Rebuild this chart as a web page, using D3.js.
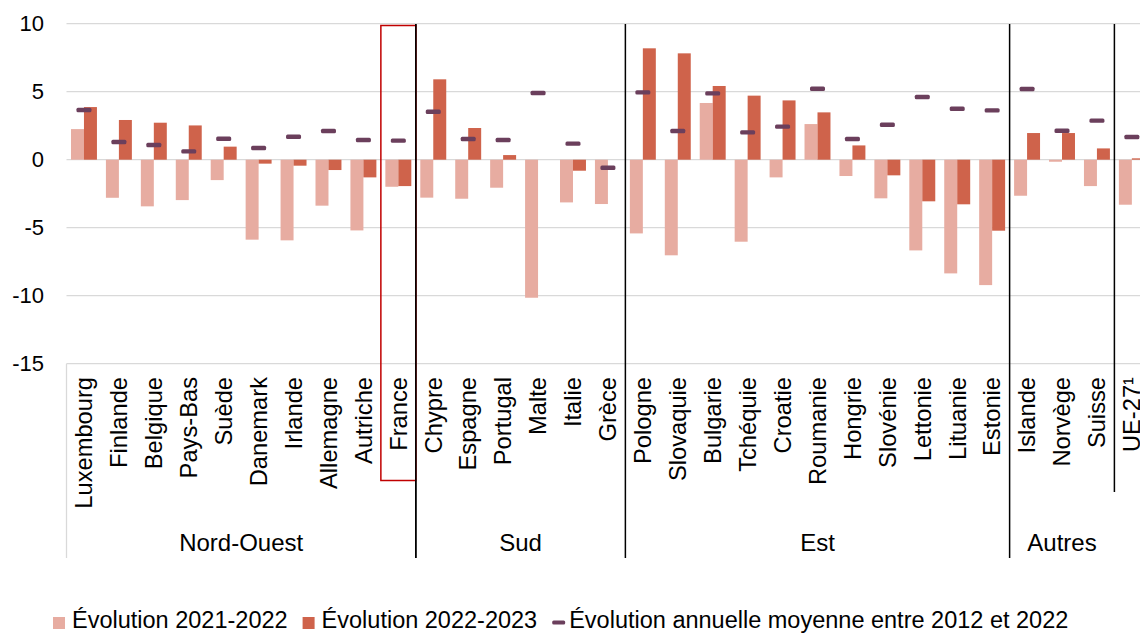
<!DOCTYPE html>
<html>
<head>
<meta charset="utf-8">
<script src="https://cdn.jsdelivr.net/npm/d3@7"></script>
<style>
	body { margin: 0; background: #fff; }
	svg { display: block; font-family: "Liberation Sans", Arial, sans-serif; }
</style>
</head>
<body>
<svg width="1140" height="633"></svg>
<script>
// data
const countries = ["Luxembourg", "Finlande", "Belgique", "Pays-Bas", "Suède", "Danemark", "Irlande", "Allemagne", "Autriche", "France",
	"Chypre", "Espagne", "Portugal", "Malte", "Italie", "Grèce",
	"Pologne", "Slovaquie", "Bulgarie", "Tchéquie", "Croatie", "Roumanie", "Hongrie", "Slovénie", "Lettonie", "Lituanie", "Estonie",
	"Islande", "Norvège", "Suisse", "UE-27¹"];

const evol2122 = [2.25, -2.8, -3.43, -2.97, -1.5, -5.88, -5.93, -3.38, -5.2, -1.99,
	-2.79, -2.87, -2.06, -10.15, -3.14, -3.26,
	-5.42, -7.03, 4.17, -6.03, -1.3, 2.62, -1.2, -2.84, -6.67, -8.36, -9.22,
	-2.65, -0.15, -1.94, -3.31];

const evol2223 = [3.87, 2.92, 2.72, 2.52, 0.96, -0.29, -0.44, -0.76, -1.3, -1.94,
	5.91, 2.33, 0.34, 0, -0.81, 0,
	8.19, 7.82, 5.42, 4.71, 4.36, 3.48, 1.05, -1.15, -3.06, -3.28, -5.22,
	1.96, 1.96, 0.83, 0.1];

const moyenne = [3.65, 1.3, 1.08, 0.61, 1.54, 0.86, 1.69, 2.11, 1.45, 1.4,
	3.53, 1.52, 1.45, 4.9, 1.18, -0.59,
	4.95, 2.11, 4.88, 2.01, 2.43, 5.22, 1.52, 2.57, 4.61, 3.75, 3.63,
	5.2, 2.13, 2.87, 1.67];

const groups = [
	{ name: "Nord-Ouest", first: 0, count: 10 },
	{ name: "Sud", first: 10, count: 6 },
	{ name: "Est", first: 16, count: 11 },
	{ name: "Autres", first: 27, count: 3 }
];

const yTicks = [10, 5, 0, -5, -10, -15];

const seriesNames = ["Évolution 2021-2022", "Évolution 2022-2023", "Évolution annuelle moyenne entre 2012 et 2022"];
const colors = ["#E7ACA1", "#CF634B", "#6B3F5C"];

const svg = d3.select("svg");
const left = 66.5, step = 34.93, fontSize = 24;

const x = d3.scaleBand()
	.domain(countries)
	.range([left, left + step * countries.length])
	.padding(0);

const x1 = d3.scaleBand()
	.domain([0, 1])
	.range([0, x.bandwidth()])
	.paddingInner(0)
	.paddingOuter(0.346);

const y = d3.scaleLinear()
	.domain([-15, 10])
	.range([363.7, 23.7]);

// grid
svg.append("g")
	.selectAll("line")
	.data(yTicks)
	.enter().append("line")
	.attr("x1", left)
	.attr("x2", 1140)
	.attr("y1", d => y(d))
	.attr("y2", d => y(d))
	.attr("stroke", "#d9d9d9")
	.attr("stroke-width", 1.3);

const yAxis = d3.axisLeft(y)
	.tickValues(yTicks)
	.tickFormat(d => String(d))
	.tickSize(0)
	.tickPadding(0);

svg.append("g")
	.attr("transform", "translate(44,0)")
	.call(yAxis)
	.call(g => g.select(".domain").remove())
	.selectAll("text")
	.attr("font-size", 22)
	.attr("font-family", "Liberation Sans, Arial, sans-serif")
	.attr("fill", "#000");

// category frame line on the left
svg.append("line")
	.attr("x1", left).attr("x2", left)
	.attr("y1", y(-15)).attr("y2", 558)
	.attr("stroke", "#d9d9d9")
	.attr("stroke-width", 1.3);

// bars
const slots = svg.append("g")
	.selectAll("g")
	.data(countries)
	.enter().append("g")
	.attr("transform", d => "translate(" + x(d) + ",0)");

[evol2122, evol2223].forEach(function(values, k) {
	slots.append("rect")
		.attr("x", x1(k))
		.attr("width", x1.bandwidth())
		.attr("y", (d, i) => y(Math.max(0, values[i])))
		.attr("height", (d, i) => Math.abs(y(values[i]) - y(0)))
		.attr("fill", colors[k]);
});

// average markers
slots.append("rect")
	.attr("x", x.bandwidth() / 2 - 7.5)
	.attr("width", 15)
	.attr("y", (d, i) => y(moyenne[i]) - 2.2)
	.attr("height", 4.4)
	.attr("rx", 1.5)
	.attr("fill", colors[2]);

// country labels
slots.append("text")
	.attr("transform", "translate(" + x.bandwidth() / 2 + ",377) rotate(-90)")
	.attr("dy", "0.35em")
	.attr("text-anchor", "end")
	.attr("font-size", 23.7)
	.text(d => d);

// group labels
svg.append("g")
	.selectAll("text")
	.data(groups)
	.enter().append("text")
	.attr("x", d => x(countries[d.first]) + d.count * step / 2)
	.attr("y", 551)
	.attr("text-anchor", "middle")
	.attr("font-size", fontSize)
	.text(d => d.name);

// black separators between groups
svg.append("g")
	.selectAll("line")
	.data(groups.slice(1))
	.enter().append("line")
	.attr("x1", d => x(countries[d.first]))
	.attr("x2", d => x(countries[d.first]))
	.attr("y1", 24)
	.attr("y2", 558)
	.attr("stroke", "#000")
	.attr("stroke-width", 1.5);

const ueX = x(countries[countries.length - 1]);
svg.append("line")
	.attr("x1", ueX).attr("x2", ueX)
	.attr("y1", 24).attr("y2", 492)
	.attr("stroke", "#000")
	.attr("stroke-width", 1.5);

// France highlight
const frX = x("France");
svg.append("rect")
	.attr("x", frX)
	.attr("y", 25.5)
	.attr("width", step)
	.attr("height", 455)
	.attr("fill", "none")
	.attr("stroke", "#C00000")
	.attr("stroke-width", 1.5);
svg.append("line")
	.attr("x1", frX + step).attr("x2", frX + step)
	.attr("y1", 24).attr("y2", 558)
	.attr("stroke", "#000")
	.attr("stroke-width", 1.5);

// legend
const legend = svg.append("g").attr("class", "legend");
let lx = 53;
seriesNames.forEach(function(name, k) {
	if (k < 2) {
		legend.append("rect")
			.attr("x", lx).attr("y", 617)
			.attr("width", 12).attr("height", 12)
			.attr("fill", colors[k]);
		lx += 19;
	} else {
		legend.append("rect")
			.attr("x", lx).attr("y", 620.5)
			.attr("width", 13).attr("height", 4)
			.attr("rx", 1.5)
			.attr("fill", colors[k]);
		lx += 17;
	}
	const t = legend.append("text")
		.attr("x", lx)
		.attr("y", 628)
		.attr("font-size", 23.5)
		.text(name);
	lx += t.node().getComputedTextLength() + 15;
});
</script>
</body>
</html>
